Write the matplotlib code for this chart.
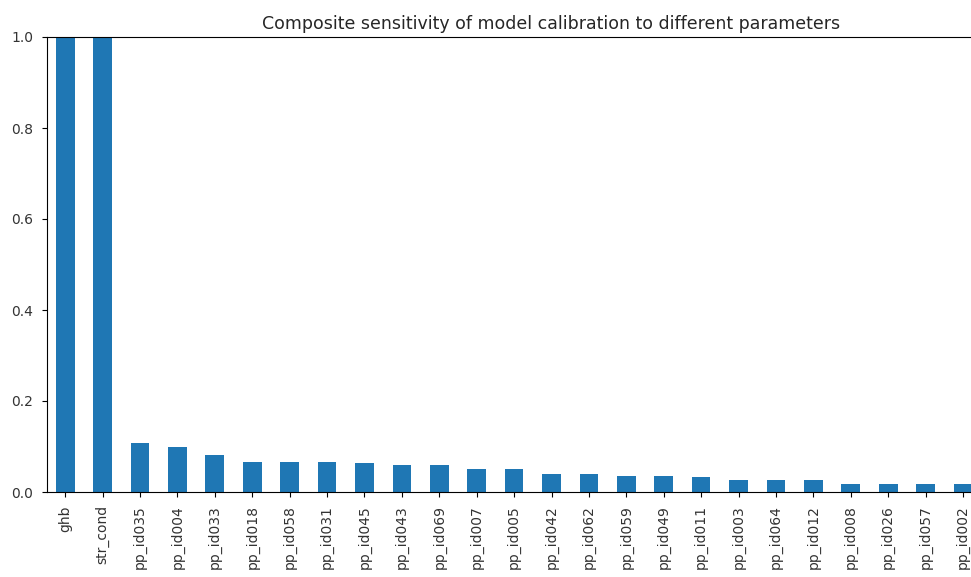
import matplotlib
matplotlib.use("Agg")
import matplotlib.pyplot as plt
import pandas as pd

# composite sensitivity per parameter, sorted descending
params = ["ghb", "str_cond", "pp_id035", "pp_id004", "pp_id033", "pp_id018",
          "pp_id058", "pp_id031", "pp_id045", "pp_id043", "pp_id069", "pp_id007",
          "pp_id005", "pp_id042", "pp_id062", "pp_id059", "pp_id049", "pp_id011",
          "pp_id003", "pp_id064", "pp_id012", "pp_id008", "pp_id026", "pp_id057",
          "pp_id002"]
sensitivity = [1.0, 1.0, 0.107, 0.100, 0.081, 0.067,
               0.067, 0.067, 0.063, 0.059, 0.059, 0.051,
               0.051, 0.040, 0.040, 0.036, 0.036, 0.033,
               0.026, 0.026, 0.026, 0.018, 0.018, 0.018,
               0.018]

csum = pd.Series(sensitivity, index=params)

dpi = 100
fig = plt.figure(figsize=(971 / dpi, 577 / dpi), dpi=dpi)
# wide axes: the plot continues past the right edge of the saved image
ax = fig.add_axes([46.5 / 971, 85 / 577, 1010 / 971, 455 / 577])
csum.plot(kind="bar", ax=ax, color="#1f77b4")
ax.set_xlim(-0.5, 26.5)
ax.set_ylim(0, 1)
ax.set_title("Composite sensitivity of model calibration to different parameters",
             fontsize=12.5, color="#262626")
ax.tick_params(labelsize=10, labelcolor="#333333", pad=6)

fig.savefig("out.png", dpi=dpi)
